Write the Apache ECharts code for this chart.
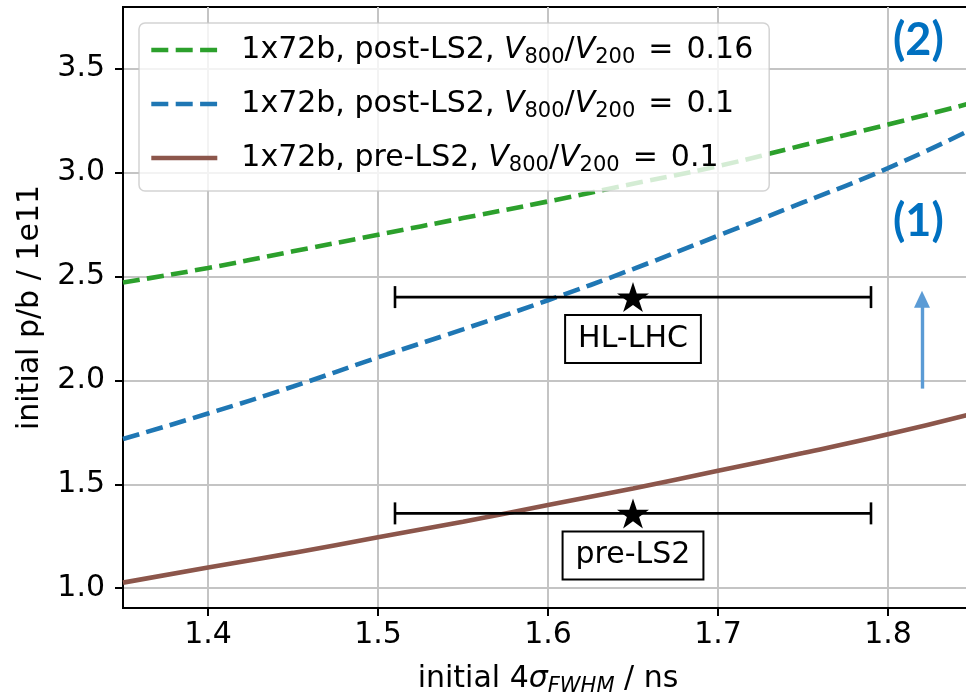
<!DOCTYPE html>
<html>
<head>
<meta charset="utf-8">
<script src="https://cdn.jsdelivr.net/npm/echarts@6/dist/echarts.min.js"></script>
<style>
html,body{margin:0;padding:0;background:#fff;}
#chart{width:966px;height:695px;}
</style>
</head>
<body>
<div id="chart"></div>
<script>
// ---- data ----
var xValues = [1.35, 1.40, 1.45, 1.50, 1.55, 1.60, 1.65, 1.70, 1.75, 1.80, 1.85];
var greenPost016 = [2.47, 2.54, 2.62, 2.70, 2.78, 2.86, 2.945, 3.03, 3.13, 3.23, 3.335];
var bluePost010 = [1.718, 1.84, 1.97, 2.11, 2.245, 2.385, 2.535, 2.695, 2.855, 3.02, 3.21];
var brownPre010 = [1.027, 1.10, 1.17, 1.245, 1.32, 1.40, 1.48, 1.565, 1.65, 1.74, 1.84];
var seriesNames = ['post-LS2 0.16', 'post-LS2 0.1', 'pre-LS2 0.1'];
var legendPrefix = ['1x72b, post-LS2, ', '1x72b, post-LS2, ', '1x72b, pre-LS2, '];
var legendRatio = ['0.16', '0.1', '0.1'];
var refNames = ['HL-LHC', 'pre-LS2'];
var refCenterX = [1.65, 1.65];
var refY = [2.4, 1.36];
var refXLow = [1.51, 1.51];
var refXHigh = [1.79, 1.79];
var xTicks = [1.4, 1.5, 1.6, 1.7, 1.8];
var yTicks = [1.0, 1.5, 2.0, 2.5, 3.0, 3.5];
var arrowX = 1.82, arrowY0 = 1.96, arrowY1 = 2.39;

function pairs(xs, ys){ return xs.map(function(x,i){ return [x, ys[i]]; }); }

var FONT = 'DejaVu Sans';
var starPath = 'path://M100,0 L122.45,69.1 L195.1,69.1 L136.33,111.8 L158.78,180.9 L100,138.2 L41.22,180.9 L63.67,111.8 L4.9,69.1 L77.55,69.1 Z';
var dash = [17, 7.4];

var series = [
  { name: seriesNames[0], type:'line', data: pairs(xValues, greenPost016), showSymbol:false, symbol:'none', smooth:true,
    lineStyle:{color:'#2ca02c', width:4.6, type:dash}, itemStyle:{color:'#2ca02c'}, z:2 },
  { name: seriesNames[1], type:'line', data: pairs(xValues, bluePost010), showSymbol:false, symbol:'none', smooth:true,
    lineStyle:{color:'#1f77b4', width:4.6, type:dash}, itemStyle:{color:'#1f77b4'}, z:2 },
  { name: seriesNames[2], type:'line', data: pairs(xValues, brownPre010), showSymbol:false, symbol:'none', smooth:true,
    lineStyle:{color:'#8c564b', width:4.6, type:'solid'}, itemStyle:{color:'#8c564b'}, z:2 }
];
refNames.forEach(function(n, i){
  series.push({ name:'bar-'+n, type:'line', data:[[refXLow[i], refY[i]],[refXHigh[i], refY[i]]],
    symbol:'rect', symbolSize:[2.6, 22], showSymbol:true, silent:true,
    lineStyle:{color:'#000', width:2.6}, itemStyle:{color:'#000'}, z:3 });
});
series.push({ name:'refs', type:'scatter', symbol:starPath, symbolSize:[32,30], symbolKeepAspect:false,
  itemStyle:{color:'#000', opacity:1}, z:4, silent:true,
  data: refNames.map(function(n,i){ return {value:[refCenterX[i], refY[i]], name:n}; }),
  label:{show:true, position:'bottom', distance:4, formatter:function(p){return p.name;},
    fontFamily:FONT, fontSize:30, color:'#000', backgroundColor:'#fff', borderColor:'#000', borderWidth:2,
    textBorderWidth:0, opacity:1,
    padding:[6,12,6,12], lineHeight:34},
  markLine:{ silent:true, symbol:['none','triangle'], symbolSize:[16,17], animation:false,
    label:{show:false}, lineStyle:{color:'#5B9BD5', width:3.4, type:'solid', opacity:1},
    data:[[{coord:[arrowX, arrowY0]},{coord:[arrowX, arrowY1]}]] }
});

var chart = echarts.init(document.getElementById('chart'), null, {renderer:'canvas'});
chart.setOption({
  animation:false,
  backgroundColor:'#fff',
  grid:{left:123, top:7, right:-7, bottom:87, show:true, borderColor:'#000', borderWidth:2, outerBoundsMode:'none'},
  legend:{
    data: seriesNames,
    orient:'vertical', left:139, top:23,
    itemWidth:66, itemHeight:14, itemGap:21,
    padding:[12,16,15,10],
    backgroundColor:'rgba(255,255,255,0.8)', borderColor:'rgba(200,200,200,0.8)', borderWidth:1.5, borderRadius:6,
    lineStyle:{width:4.6},
    itemStyle:{opacity:0, borderWidth:0},
    formatter:function(name){
      var i = seriesNames.indexOf(name);
      return '{g|}{t|'+legendPrefix[i]+'}{v|V}{s|800}{t|/}{v|V}{s|200}{e|=}{t|'+legendRatio[i]+'}';
    },
    textStyle:{fontFamily:FONT, fontSize:30, color:'#000',
      rich:{
        g:{width:19},
        t:{fontFamily:FONT, fontSize:30, lineHeight:36, color:'#000'},
        e:{fontFamily:FONT, fontSize:30, lineHeight:36, color:'#000', padding:[0,13,0,13]},
        v:{fontFamily:FONT, fontSize:30, fontStyle:'italic', lineHeight:36, color:'#000'},
        s:{fontFamily:FONT, fontSize:21, lineHeight:24, verticalAlign:'bottom', color:'#000'}
      }}
  },
  xAxis:{
    type:'value', min:1.35, max:1.85,
    name:'{t|initial 4}{v|σ}{s|FWHM}{t| / ns}', nameLocation:'middle', nameGap:53,
    nameTextStyle:{fontFamily:FONT, fontSize:30, color:'#000',
      rich:{
        t:{fontFamily:FONT, fontSize:30, lineHeight:36, color:'#000'},
        v:{fontFamily:FONT, fontSize:30, fontStyle:'italic', lineHeight:36, color:'#000'},
        s:{fontFamily:FONT, fontSize:21, fontStyle:'italic', lineHeight:24, verticalAlign:'bottom', color:'#000'}
      }},
    axisLine:{show:true, onZero:false, lineStyle:{color:'#000', width:2}},
    axisTick:{show:true, length:8, inside:false, customValues:xTicks, lineStyle:{color:'#000', width:2}},
    axisLabel:{customValues:xTicks, margin:12, fontFamily:FONT, fontSize:30, color:'#000',
      formatter:function(v){return v.toFixed(1);}},
    splitLine:{show:true, lineStyle:{color:'#c4c4c4', width:2}}
  },
  yAxis:{
    type:'value', min:0.905, max:3.795,
    name:'initial p/b / 1e11', nameLocation:'middle', nameGap:78, nameRotate:90,
    nameTextStyle:{fontFamily:FONT, fontSize:30, color:'#000'},
    axisLine:{show:true, onZero:false, lineStyle:{color:'#000', width:2}},
    axisTick:{show:true, length:8, inside:false, customValues:yTicks, lineStyle:{color:'#000', width:2}},
    axisLabel:{customValues:yTicks, margin:18, fontFamily:FONT, fontSize:30, color:'#000',
      formatter:function(v){return v.toFixed(1);}},
    splitLine:{show:true, lineStyle:{color:'#c4c4c4', width:2}}
  },
  graphic:[
    {type:'text', left:893, top:18, z:10, style:{text:'(2)', fontFamily:'Lato', fontWeight:'bold', fontSize:45, fill:'#0070C0'}},
    {type:'text', left:893, top:199, z:10, style:{text:'(1)', fontFamily:'Lato', fontWeight:'bold', fontSize:45, fill:'#0070C0'}}
  ],
  series: series
});
</script>
</body>
</html>
